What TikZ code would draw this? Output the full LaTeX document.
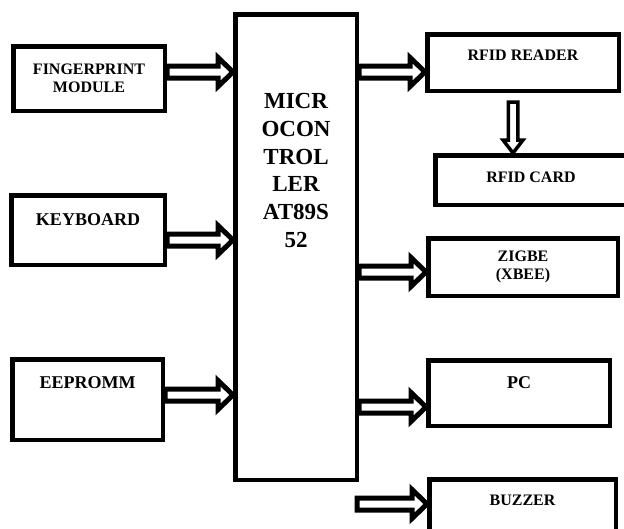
\documentclass[tikz,border=0pt]{standalone}
\usepackage{fontspec}
\setmainfont{Liberation Serif}
\usepackage{tikz}
\usetikzlibrary{positioning, calc}
\newcommand{\midf}{\fontsize{16}{18}\selectfont\bfseries}
\newcommand{\bigf}{\fontsize{18}{21}\selectfont\bfseries}
\newcommand{\mcuf}{\fontsize{23}{27.8}\selectfont\bfseries}

\begin{document}
\begin{tikzpicture}[
   x=1pt, y=-1pt, font=\midf,
   box/.style = {rectangle, draw=black, line width=4.5pt, fill=white},
   harrow/.style = {draw=black, line width=5pt, fill=white, line join=miter,
       to path={let \p1=(\tikztostart), \p2=(\tikztotarget) in
         (\x1,\y1+6pt) -- (\x2-15pt,\y1+6pt) -- (\x2-15pt,\y1+14.5pt) -- (\x2,\y1)
         -- (\x2-15pt,\y1-14.5pt) -- (\x2-15pt,\y1-6pt) -- (\x1,\y1-6pt) -- cycle}},
   varrow/.style = {draw=black, line width=3.5pt, fill=white, line join=miter,
       to path={let \p1=(\tikztostart), \p2=(\tikztotarget) in
         (\x1-4.75pt,\y1) -- (\x1-4.75pt,\y2+13pt) -- (\x1-10pt,\y2+13pt) -- (\x1,\y2)
         -- (\x1+10pt,\y2+13pt) -- (\x1+4.75pt,\y2+13pt) -- (\x1+4.75pt,\y1) -- cycle}}]
  \useasboundingbox (0,0) rectangle (624,528);

  \node[box, minimum width=121.5pt, minimum height=465.5pt] (mcu) at (296,247) {};
  \node[font=\mcuf, align=center, inner sep=0pt, below=81pt of mcu.north] (mcutxt)
       {MICR\\OCON\\TROL\\LER\\AT89S\\52};

  \node[box, minimum width=151.5pt, minimum height=64.5pt, align=center] (fp) at (89,78.5) {FINGERPRINT\\MODULE};
  \node[box, minimum width=153.5pt, minimum height=69.5pt, font=\bigf, text depth=20pt] (kbd) at (88,230) {KEYBOARD};
  \node[box, minimum width=150.5pt, minimum height=80.5pt, font=\bigf, text depth=33pt] (eep) at (87.5,399.5) {EEPROMM};

  \node[box, minimum width=191.5pt, minimum height=56.5pt, text depth=15pt] (rdr) at (523,62.5) {RFID READER};
  \node[box, minimum width=191.5pt, minimum height=49.5pt, text depth=6pt] (card) at (531,180) {RFID CARD};
  \node[box, minimum width=189.5pt, minimum height=57.5pt, align=center] (zig) at (523,267) {ZIGBE\\(XBEE)};
  \node[box, minimum width=181.5pt, minimum height=65.5pt, font=\bigf, text depth=20pt] (pc) at (519,393) {PC};
  \node[box, minimum width=186.5pt, minimum height=65.5pt, text depth=24pt] (buz) at (522.5,512) {BUZZER};

  \draw[harrow] (fp.east |- 0,72) to (mcu.west);
  \draw[harrow] (kbd.east |- 0,240) to (mcu.west);
  \draw[harrow] (eep.east |- 0,395) to (mcu.west);

  \draw[harrow] (mcu.east |- 0,72) to (rdr.west);
  \draw[harrow] (mcu.east |- 0,272) to (zig.west);
  \draw[harrow] (mcu.east |- 0,407) to (pc.west);

  \coordinate (cardin) at (513,102);
  \draw[varrow] (cardin) to (card.north);
  \coordinate (buzin) at (357,504);
  \draw[harrow] (buzin) to (buz.west);
\end{tikzpicture}
\end{document}
